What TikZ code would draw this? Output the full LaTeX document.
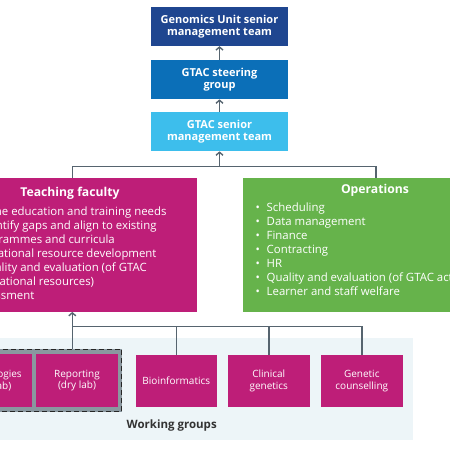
\documentclass[tikz,border=0pt]{standalone}
\usepackage{fontspec}
\setmainfont{Open Sans}
\usetikzlibrary{arrows.meta}
\definecolor{unitblue}{HTML}{1F4690}
\definecolor{steerblue}{HTML}{0B6FB8}
\definecolor{skyblue}{HTML}{3DBEEC}
\definecolor{faculty}{HTML}{BE1E78}
\definecolor{opsgreen}{HTML}{66B34B}
\definecolor{wgback}{HTML}{EDF5F8}
\definecolor{linkgray}{HTML}{56646F}
\definecolor{framegray}{HTML}{8A979F}
\tikzstyle{every picture}+=[x=1pt,y=-1pt]
\tikzstyle{mgmt}=[text=white,font=\bfseries\fontsize{11}{12}\selectfont,align=center,minimum width=137.6pt,minimum height=39.3pt,inner sep=0pt]
\tikzstyle{bigbox}=[minimum width=248.7pt,minimum height=133.4pt,inner sep=0pt]
\tikzstyle{boxtitle}=[text=white,font=\bfseries\fontsize{12.2}{14}\selectfont,inner sep=0pt]
\tikzstyle{bullets}=[text=white,font=\fontsize{11.4}{14}\selectfont,align=left,inner sep=0pt,anchor=base west]
\tikzstyle{wgbox}=[fill=faculty,text=white,font=\fontsize{10}{11.7}\selectfont,align=center,minimum width=81.6pt,minimum height=52.5pt,inner sep=0pt]
\tikzstyle{link}=[draw=linkgray,line width=1.4pt]
\tikzstyle{up}=[link,-{Straight Barb[length=3pt,width=7pt]}]
\newcommand{\bitem}[1]{\makebox[11pt][l]{\textbullet}#1}
\newcommand{\bcont}[1]{\hspace*{11pt}#1}

\begin{document}
\begin{tikzpicture}
		\useasboundingbox (0,0) rectangle (450,450);
		\clip (0,0) rectangle (450,450);
		% management chain
		\node[mgmt,fill=unitblue] (gusmt) at (219.5,26.3) {Genomics Unit senior\\management team};
		\node[mgmt,fill=steerblue] (steer) at (219.5,79.5) {GTAC steering\\group};
		\node[mgmt,fill=skyblue] (gtacsmt) at (219.5,131.5) {GTAC senior\\management team};
		\draw[up] (steer.north) -- (gusmt.south);
		\draw[up] (gtacsmt.north) -- (steer.south);
		% faculty and operations
		\node[bigbox,fill=faculty] (teach) at (72.3,245) {};
		\node[bigbox,fill=opsgreen,minimum width=265.4pt] (ops) at (376,245) {};
		\node[boxtitle] (teachtitle) at (70,193.3) {Teaching faculty};
		\node[boxtitle] (opstitle) at (375,190.7) {Operations};
		\foreach \endx/\basey/\txt [count=\i] in {166.7/215/{\bitem{Define education and training needs}},
			156.7/229/{\bitem{Identify gaps and align to existing}},
			115/243/{\bcont{programmes and curricula}},
			156.7/257/{\bitem{Educational resource development}},
			147/271/{\bitem{Quality and evaluation (of GTAC}},
			94.3/285/{\bcont{educational resources)}},
			34.5/299/{\bitem{Assessment}}}
			\node[bullets,anchor=base east] (teachline\i) at (\endx,\basey) {\txt};
		\node[bullets] (opslist) at (255.5,295.5) {\bitem{Scheduling}\\
			\bitem{Data management}\\
			\bitem{Finance}\\
			\bitem{Contracting}\\
			\bitem{HR}\\
			\bitem{Quality and evaluation (of GTAC activities)}\\
			\bitem{Learner and staff welfare}};
		\coordinate (hub) at (219.5,166.7);
		\draw[up] (hub) -- (gtacsmt.south);
		\draw[link] (teach.north) |- (hub) -| (ops.north);
		% working groups
		\fill[wgback] (-70,338.3) rectangle (413.3,440);
		\node[fill=framegray,draw=black!85,dashed,dash pattern=on 5pt off 3pt,line width=1.1pt,minimum width=175.7pt,minimum height=62.4pt,inner sep=0pt] (pair) at (33.85,380.5) {};
		\node[wgbox] (tech) at (-8.5,380.5) {Technologies\\(wet lab)};
		\node[wgbox] (rep) at (77,380.5) {Reporting\\(dry lab)};
		\node[wgbox] (bio) at (176.3,381.2) {Bioinformatics};
		\node[wgbox] (clin) at (268.8,381.2) {Clinical\\genetics};
		\node[wgbox] (gen) at (361.8,381.2) {Genetic\\counselling};
		\node[font=\bfseries\fontsize{11.5}{14}\selectfont,text=black!80] (wglabel) at (171.7,425.7) {Working groups};
		\coordinate (wghub) at (72.3,326.7);
		\draw[up] (wghub |- pair.north) -- (teach.south);
		\draw[link] (wghub) -| (gen.north);
		\draw[link] (wghub -| bio.north) -- (bio.north);
		\draw[link] (wghub -| clin.north) -- (clin.north);
\end{tikzpicture}
\end{document}
